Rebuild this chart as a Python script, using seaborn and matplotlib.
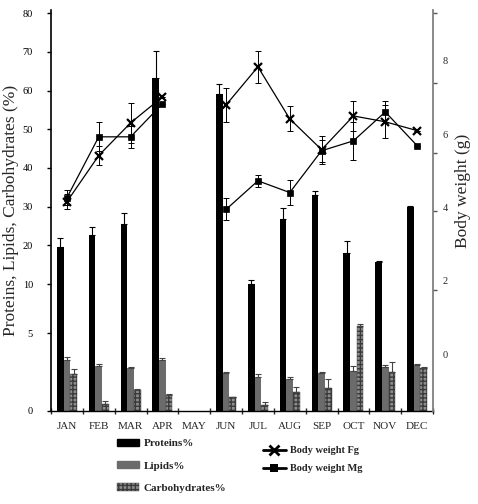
import numpy as np
import pandas as pd
import matplotlib
matplotlib.use("Agg")
import matplotlib.pyplot as plt
import seaborn as sns
from matplotlib.patches import Patch
from matplotlib.lines import Line2D
from matplotlib.ticker import FixedLocator, NullFormatter, FixedFormatter

nan = np.nan
months = ["JAN", "FEB", "MAR", "APR", "MAY", "JUN", "JUL", "AUG", "SEP", "OCT", "NOV", "DEC"]
proteins = [19.6, 22.6, 25.5, 63.2, nan, 59.1, 10.0, 26.8, 33.0, 18.0, 15.7, 29.9]
proteins_err = [2.2, 2.1, 2.8, 7.0, nan, 2.6, 1.1, 2.8, 1.0, 3.0, 0.3, 0.3]
lipids = [3.27, 2.88, 2.76, 3.27, nan, 2.44, 2.2, 2.05, 2.46, 2.56, 2.82, 2.95]
lipids_err = [0.2, 0.15, 0.05, 0.15, nan, 0.05, 0.15, 0.15, 0.05, 0.3, 0.15, 0.05]
carbs = [2.37, 0.45, 1.35, 1.03, nan, 0.9, 0.38, 1.22, 1.47, 5.7, 2.5, 2.76]
carbs_err = [0.3, 0.2, 0.05, 0.05, nan, 0.0, 0.2, 0.35, 0.6, 0.2, 0.65, 0.05]
fg_weight = [4.16, 5.42, 6.31, 7.02, nan, 6.80, 7.84, 6.42, 5.58, 6.50, 6.34, 6.10]
fg_err = [0.2, 0.25, 0.55, 0.0, nan, 0.46, 0.44, 0.34, 0.38, 0.4, 0.45, 0.0]
mg_weight = [4.27, 5.93, 5.93, 6.83, nan, 3.95, 4.73, 4.41, 5.55, 5.82, 6.61, 5.69]
mg_err = [0.2, 0.4, 0.3, 0.0, nan, 0.3, 0.17, 0.35, 0.3, 0.52, 0.3, 0.0]

components = ["Proteins%", "Lipids%", "Carbohydrates%"]
left_ticks = [0, 5, 10, 20, 30, 40, 50, 60, 70, 80]
right_ticks = [0, 2, 4, 6, 8]

sns.set_style("white")
plt.rcParams["font.family"] = ["Liberation Serif", "DejaVu Serif"]

# long table of bars
rows = []
for comp, vals, errs in zip(components, [proteins, lipids, carbs],
                            [proteins_err, lipids_err, carbs_err]):
    for m, v, e in zip(months, vals, errs):
        if not np.isnan(v):
            rows.append({"month": m, "component": comp, "value": v, "err": e})
bars = pd.DataFrame(rows)

# body weight table (two segments, gap at MAY)
bw_rows = []
for i, m in enumerate(months):
    if not np.isnan(fg_weight[i]):
        bw_rows.append({"idx": i, "seg": 0 if i < 4 else 1,
                        "Fg": fg_weight[i], "Fg_err": fg_err[i],
                        "Mg": mg_weight[i], "Mg_err": mg_err[i]})
bw = pd.DataFrame(bw_rows)

fig = plt.figure(figsize=(4.78, 5.04), dpi=100)
ax = fig.add_axes([51 / 478, 1 - 411 / 504, (433 - 51) / 478, (411 - 10) / 504])

# broken (piecewise-linear) left scale as in the reference
kv = [0, 5, 10, 90]
kp = [0, 78, 127, 127 + 80 * 3.871]
fwd = lambda v: np.interp(v, kv, kp)
inv = lambda p: np.interp(p, kp, kv)
ax.set_yscale("function", functions=(fwd, inv))

colors = ["#000000", "#6b6b6b", "#8c8c8c"]
sns.barplot(data=bars, x="month", y="value", hue="component", order=months,
            hue_order=components, palette=colors, width=0.63, errorbar=None,
            saturation=1, legend=False, ax=ax, linewidth=0)

for j, comp in enumerate(components):
    cont = ax.containers[j]
    sub = bars[bars.component == comp].set_index("month")
    xs, ys, es = [], [], []
    for b in cont:
        cx = b.get_x() + b.get_width() / 2
        m = months[int(round(cx))]
        xs.append(cx)
        ys.append(sub.loc[m, "value"])
        es.append(sub.loc[m, "err"])
        if j == 2:
            b.set_hatch("++++")
            b.set_edgecolor("#3a3a3a")
            b.set_linewidth(0.3)
    es = np.array(es)
    ax.errorbar(xs, ys, yerr=[np.zeros_like(es), es], fmt="none",
                ecolor="black" if j == 0 else "#444444", elinewidth=0.8,
                capsize=2.2, capthick=0.8, zorder=3)

ax.set_ylim(0, 80.8)
ax.set_xlim(-0.5, 11.5)
ax.yaxis.set_major_locator(FixedLocator(left_ticks))
ax.yaxis.set_major_formatter(FixedFormatter([str(t) for t in left_ticks]))
ax.yaxis.set_minor_locator(FixedLocator([]))
ax.tick_params(axis="y", which="major", direction="out", length=3, width=1,
               labelsize=7.5, pad=10, colors="black", left=True)

ax.xaxis.set_major_locator(FixedLocator(np.arange(-0.5, 12, 1.0)))
ax.xaxis.set_major_formatter(NullFormatter())
ax.xaxis.set_minor_locator(FixedLocator(np.arange(12)))
ax.xaxis.set_minor_formatter(FixedFormatter(months))
ax.tick_params(axis="x", which="major", direction="inout", length=4, width=1,
               bottom=True)
ax.tick_params(axis="x", which="minor", length=0, labelsize=8, pad=8)
ax.set_xlabel("")
ax.set_ylabel("Proteins, Lipids, Carbohydrates (%)", fontsize=12.5)
ax.yaxis.set_label_coords(-0.085, 0.50)

for s in ["top", "right"]:
    ax.spines[s].set_visible(False)
ax.spines["left"].set_color("black")
ax.spines["left"].set_linewidth(1.2)
ax.spines["bottom"].set_color("black")
ax.spines["bottom"].set_linewidth(1.0)

# right axis: body weight
ax2 = ax.twinx()
sns.lineplot(data=bw, x="idx", y="Fg", units="seg", estimator=None, color="black",
             lw=0.9, marker="x", ms=6, mew=1.6, mec="black", ax=ax2, zorder=5)
sns.lineplot(data=bw, x="idx", y="Mg", units="seg", estimator=None, color="black",
             lw=0.9, marker="s", ms=4, mew=0.5, mec="black", mfc="black", ax=ax2, zorder=5)
ax2.errorbar(bw["idx"], bw["Fg"], yerr=bw["Fg_err"], fmt="none", ecolor="black",
             elinewidth=0.7, capsize=2.5, capthick=0.7, zorder=4)
ax2.errorbar(bw["idx"], bw["Mg"], yerr=bw["Mg_err"], fmt="none", ecolor="black",
             elinewidth=0.7, capsize=2.5, capthick=0.7, zorder=4)
ax2.set_ylim(-1.55, 9.39)
ax2.set_xlim(-0.5, 11.5)
ax2.yaxis.set_major_locator(FixedLocator(right_ticks))
ax2.yaxis.set_minor_locator(FixedLocator([0, 1.75, 3.9, 5.5, 7.4, 9.3]))
ax2.tick_params(axis="y", which="major", length=0, labelsize=7.5, pad=7)
ax2.tick_params(axis="y", which="minor", length=3, width=1, direction="out",
                color="#555555", right=True)
ax2.set_xlabel("")
ax2.set_ylabel("Body weight (g)", fontsize=12.5)
ax2.yaxis.set_label_coords(1.058, 0.55)
for s in ["top", "left", "bottom"]:
    ax2.spines[s].set_visible(False)
ax2.spines["right"].set_color("#808080")
ax2.spines["right"].set_linewidth(1.3)

# legends
bar_handles = [Patch(facecolor=colors[0], edgecolor=colors[0]),
               Patch(facecolor=colors[1], edgecolor=colors[1]),
               Patch(facecolor=colors[2], edgecolor="#3a3a3a", hatch="++++", linewidth=0.3)]
fig.legend(bar_handles, components, loc="upper left",
           bbox_to_anchor=(117 / 478, 1 - 439 / 504), frameon=False,
           prop={"weight": "bold", "size": 8}, handlelength=2.0,
           handleheight=0.6, labelspacing=1.15, handletextpad=0.4,
           borderpad=0, borderaxespad=0)
line_handles = [Line2D([], [], color="black", lw=2, marker="x", ms=7, mew=2),
                Line2D([], [], color="black", lw=2, marker="s", ms=6, mew=0)]
fig.legend(line_handles, ["Body weight Fg", "Body weight Mg"], loc="upper left",
           bbox_to_anchor=(263 / 478, 1 - 446 / 504), frameon=False,
           prop={"weight": "bold", "size": 7.5}, handlelength=2.2,
           labelspacing=0.85, handletextpad=0.4, borderpad=0, borderaxespad=0)

fig.savefig("out.png", dpi=100)
